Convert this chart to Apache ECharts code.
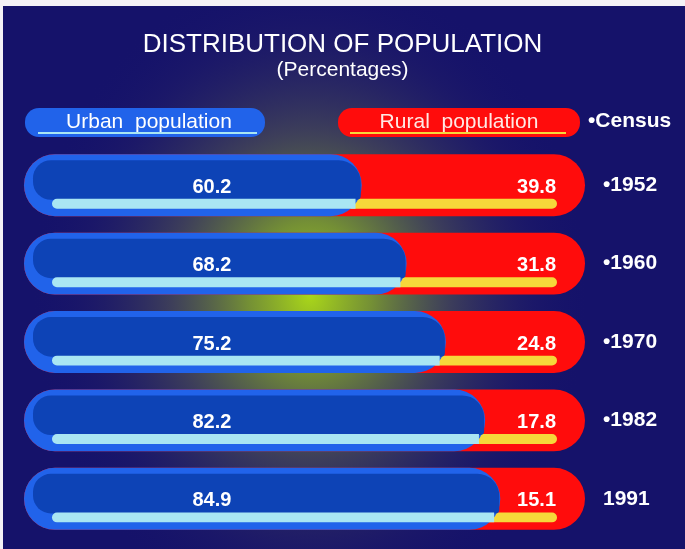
<!DOCTYPE html>
<html>
<head>
<meta charset="utf-8">
<script src="https://cdn.jsdelivr.net/npm/echarts@6/dist/echarts.min.js"></script>
<style>
  html, body { margin: 0; padding: 0; background: #15126a; }
  #chart { width: 685px; height: 549px; }
</style>
</head>
<body>
<div id="chart"></div>
<script>
// census data (percentages)
const years = ['1952', '1960', '1970', '1982', '1991'];
const yearLabels = ['•1952', '•1960', '•1970', '•1982', '1991'];
const urban = [60.2, 68.2, 75.2, 82.2, 84.9];
const rural = [39.8, 31.8, 24.8, 17.8, 15.1];

const FONT = '"Liberation Sans", Arial, sans-serif';
const chart = echarts.init(document.getElementById('chart'));

function txt(text, x, y, font, fill, align) {
  return {
    type: 'text', x: x, y: y, z2: 20,
    style: {
      text: text, font: font, fill: fill,
      align: align, verticalAlign: 'middle',
      textAlign: align, textVerticalAlign: 'middle'
    }
  };
}

function renderRow(params, api) {
  const cat = api.value(0);
  const u = api.value(1);
  const r = api.value(2);
  const p0 = api.coord([0, cat]);
  const pu = api.coord([u, cat]);
  const pt = api.coord([u + r, cat]);
  const h = api.size([0, 1])[1] * 0.79;
  const top = p0[1] - h / 2;
  const rad = h / 2;
  const sy = top + h * 0.72;   // stripe top
  const sh = h * 0.16;         // stripe height
  const inset = 28;

  // where the blue cap crosses the middle of the stripe
  const dy = (sy + sh / 2) - (top + rad);
  const edge = pu[0] - rad + Math.sqrt(Math.max(rad * rad - dy * dy, 0));

  return {
    type: 'group',
    children: [
      { type: 'rect', shape: { x: p0[0], y: top, width: pt[0] - p0[0], height: h, r: rad },
        style: { fill: '#ff0c0c' } },
      { type: 'rect', shape: { x: p0[0] + inset, y: sy, width: pt[0] - p0[0] - 2 * inset, height: sh, r: sh / 2 },
        style: { fill: '#f6d83a' } },
      { type: 'rect', shape: { x: p0[0], y: top, width: pu[0] - p0[0], height: h, r: rad },
        style: { fill: '#2163ea' } },
      { type: 'rect', shape: { x: p0[0] + 9, y: top + 6, width: pu[0] - p0[0] - 10, height: sy - top - 5, r: [18, 22, 4, 18] },
        style: { fill: '#0d43b6' } },
      { type: 'rect', shape: { x: p0[0] + inset, y: sy, width: edge - p0[0] - inset, height: sh, r: [sh / 2, 0, 0, sh / 2] },
        style: { fill: '#a9e6f3' } },
      txt(String(u), p0[0] + (pt[0] - p0[0]) * 0.335, p0[1] + 2, 'bold 20px ' + FONT, '#ffffff', 'center'),
      txt(String(r), pt[0] - 29, p0[1] + 2, 'bold 20px ' + FONT, '#ffffff', 'right')
    ]
  };
}

chart.setOption({
  backgroundColor: '#15126a',
  animation: false,
  title: {
    text: 'DISTRIBUTION OF POPULATION',
    subtext: '(Percentages)',
    left: 'center',
    top: 27,
    itemGap: 2,
    textStyle: { color: '#ffffff', fontSize: 26, fontWeight: 'normal', fontFamily: FONT },
    subtextStyle: { color: '#ffffff', fontSize: 21, fontFamily: FONT }
  },
  graphic: [
    // glow behind the bars
    {
      type: 'circle', x: 310, y: 295, scaleX: 0.85, scaleY: 1.0, z: -5, silent: true,
      shape: { cx: 0, cy: 0, r: 330 },
      style: {
        fill: new echarts.graphic.RadialGradient(0.5, 0.5, 0.5, [
          { offset: 0, color: 'rgba(170,215,25,1)' },
          { offset: 0.22, color: 'rgba(140,175,40,0.8)' },
          { offset: 0.5, color: 'rgba(100,105,75,0.5)' },
          { offset: 0.8, color: 'rgba(50,45,100,0.2)' },
          { offset: 1, color: 'rgba(21,18,106,0)' }
        ])
      }
    },
    // scan border
    { type: 'rect', left: 0, top: 0, z: 50, shape: { width: 685, height: 6 }, style: { fill: '#f4f2f6' } },
    { type: 'rect', left: 0, top: 0, z: 50, shape: { width: 3, height: 549 }, style: { fill: '#f4f2f6' } },
    // legend pills
    {
      type: 'group', left: 25, top: 108, z: 10,
      children: [
        { type: 'rect', shape: { x: 0, y: 0, width: 240, height: 29, r: 14 }, style: { fill: '#2163ea' } },
        { type: 'line', shape: { x1: 13, y1: 25, x2: 232, y2: 25 }, style: { stroke: '#a9e6f3', lineWidth: 2 } },
        { type: 'text', x: 124, y: 14, style: { text: 'Urban  population', fill: '#ffffff', font: '21px ' + FONT, align: 'center', verticalAlign: 'middle', textAlign: 'center', textVerticalAlign: 'middle' } }
      ]
    },
    {
      type: 'group', left: 338, top: 108, z: 10,
      children: [
        { type: 'rect', shape: { x: 0, y: 0, width: 242, height: 29, r: 14 }, style: { fill: '#ff0c0c' } },
        { type: 'line', shape: { x1: 12, y1: 25, x2: 228, y2: 25 }, style: { stroke: '#f6d83a', lineWidth: 2 } },
        { type: 'text', x: 121, y: 14, style: { text: 'Rural  population', fill: '#ffe9e4', font: '21px ' + FONT, align: 'center', verticalAlign: 'middle', textAlign: 'center', textVerticalAlign: 'middle' } }
      ]
    },
    {
      type: 'text', left: 588, top: 111, z: 10,
      style: { text: '•Census', fill: '#ffffff', font: 'bold 21px ' + FONT }
    }
  ],
  grid: { left: 24, right: 100, top: 146, bottom: 11 },
  xAxis: { type: 'value', min: 0, max: 100, show: false },
  yAxis: {
    type: 'category',
    data: yearLabels,
    inverse: true,
    position: 'right',
    axisLine: { show: false },
    axisTick: { show: false },
    axisLabel: { color: '#ffffff', fontSize: 21, fontWeight: 'bold', margin: 18, fontFamily: FONT }
  },
  series: [{
    type: 'custom',
    name: 'Population',
    renderItem: renderRow,
    encode: { x: [1, 2], y: 0 },
    data: years.map((y, i) => [i, urban[i], rural[i]])
  }]
});
</script>
</body>
</html>
